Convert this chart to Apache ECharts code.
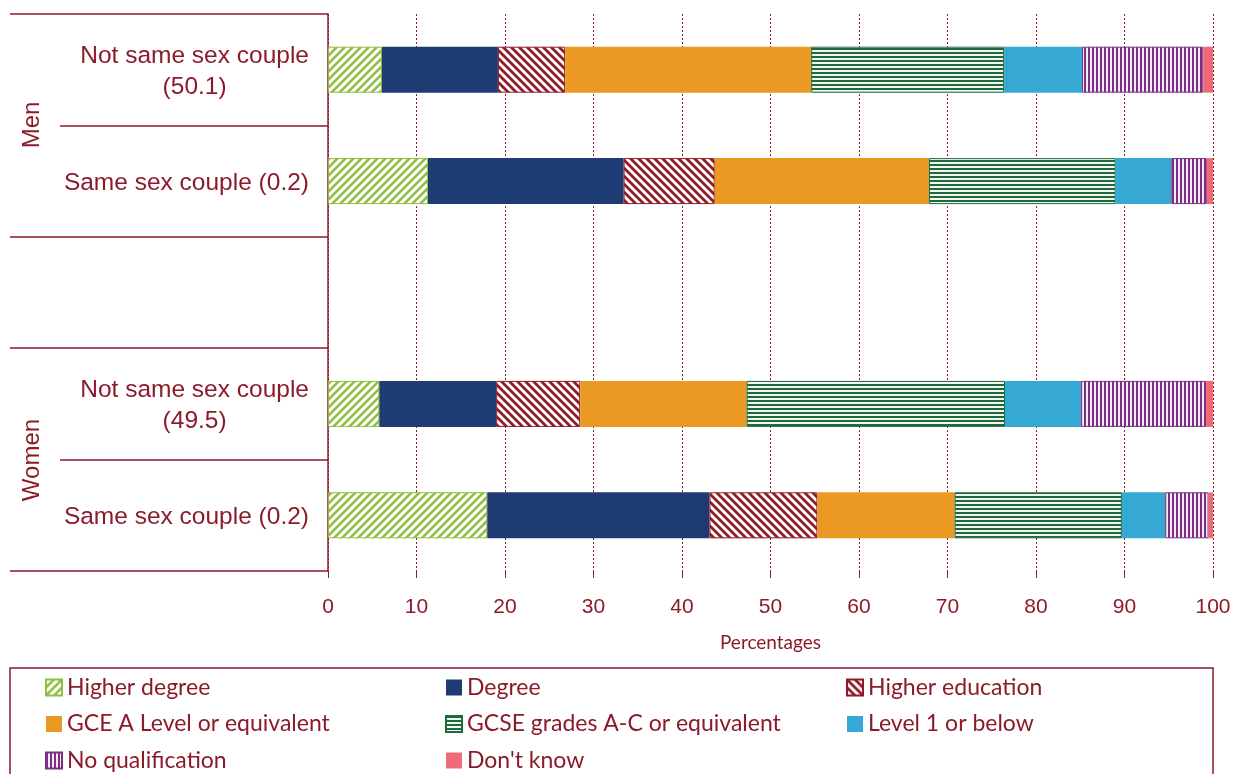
<!DOCTYPE html>
<html><head><meta charset="utf-8">
<script src="https://cdn.jsdelivr.net/npm/echarts@6/dist/echarts.min.js"></script>
<style>html,body{margin:0;padding:0;background:#fff}#c{width:1234px;height:774px}</style>
</head><body><div id="c"></div>
<script>
// ---- data ----
const categories = ['Not same sex couple\n(50.1)', 'Same sex couple (0.2)', '', 'Not same sex couple\n(49.5)', 'Same sex couple (0.2)'];
const groupLabels = ['Men', 'Women'];
const seriesNames = ['Higher degree', 'Degree', 'Higher education', 'GCE A Level or equivalent', 'GCSE grades A-C or equivalent', 'Level 1 or below', 'No qualification', "Don't know"];
const higherDegree    = [6.1, 11.3, null, 5.8, 18.0];
const degree          = [13.1, 22.1, null, 13.2, 25.1];
const higherEducation = [7.6, 10.3, null, 9.5, 12.2];
const gceALevel       = [27.8, 24.2, null, 18.8, 15.5];
const gcseGrades      = [21.8, 21.1, null, 29.2, 18.9];
const level1OrBelow   = [8.8, 6.3, null, 8.6, 4.9];
const noQualification = [13.7, 4.0, null, 14.1, 4.9];
const dontKnow        = [1.1, 0.7, null, 0.8, 0.5];
const xTickValues = [0, 10, 20, 30, 40, 50, 60, 70, 80, 90, 100];
const xAxisTitle = 'Percentages';

// ---- styles ----
const RED = '#8c1b2a';
function pattern(kind, fg, bg, p, lw) {
  const c = document.createElement('canvas');
  c.width = p; c.height = p;
  const g = c.getContext('2d');
  g.fillStyle = bg; g.fillRect(0, 0, p, p);
  g.strokeStyle = fg; g.fillStyle = fg; g.lineWidth = lw;
  if (kind === 'fwd') {
    g.beginPath();
    g.moveTo(0, p); g.lineTo(p, 0);
    g.moveTo(-p / 2, p / 2); g.lineTo(p / 2, -p / 2);
    g.moveTo(p / 2, 3 * p / 2); g.lineTo(3 * p / 2, p / 2);
    g.stroke();
  } else if (kind === 'back') {
    g.beginPath();
    g.moveTo(0, 0); g.lineTo(p, p);
    g.moveTo(p / 2, -p / 2); g.lineTo(3 * p / 2, p / 2);
    g.moveTo(-p / 2, p / 2); g.lineTo(p / 2, 3 * p / 2);
    g.stroke();
  } else if (kind === 'horiz') {
    g.fillRect(0, 0, p, lw);
  } else if (kind === 'vert') {
    g.fillRect(0, 0, lw, p);
  }
  return { image: c, repeat: 'repeat' };
}
const styles = [
  { color: pattern('fwd', '#8fbd3f', '#ffffff', 8, 2.6), borderColor: '#8fbd3f', borderWidth: 1 },
  { color: '#1f3b73' },
  { color: pattern('back', '#8e1b25', '#ffffff', 8, 2.8), borderColor: '#8e1b25', borderWidth: 1 },
  { color: '#ea9922' },
  { color: pattern('horiz', '#1e6a3c', '#f4f6f4', 4, 2), borderColor: '#1e6a3c', borderWidth: 1 },
  { color: '#36a8d4' },
  { color: pattern('vert', '#7b2e83', '#f3ecf4', 4, 2), borderColor: '#7b2e83', borderWidth: 1 },
  { color: '#f06a78' }
];
const seriesData = [higherDegree, degree, higherEducation, gceALevel, gcseGrades, level1OrBelow, noQualification, dontKnow];

const chart = echarts.init(document.getElementById('c'), null, { renderer: 'canvas' });

const series = seriesNames.map((name, i) => ({
  name, type: 'bar', stack: 'total', barWidth: 46,
  data: seriesData[i], itemStyle: styles[i], emphasis: { disabled: true },
  yAxisIndex: 0
}));

const legendFont = { color: RED, fontFamily: 'Lato', fontSize: 23, lineHeight: 22 };
function legendCol(names, left) {
  return {
    orient: 'vertical', left, top: 676, padding: 0, itemGap: 13.5,
    itemWidth: 16, itemHeight: 16, icon: 'rect', itemStyle: {},
    textStyle: legendFont, data: names, selectedMode: false
  };
}

chart.setOption({
  animation: false,
  textStyle: { fontFamily: 'Liberation Sans' },
  grid: { left: 328, right: 21, top: 14, bottom: 203 },
  xAxis: {
    type: 'value', min: xTickValues[0], max: xTickValues[xTickValues.length - 1], interval: 10,
    axisLine: { show: false },
    axisTick: { show: true, length: 7, lineStyle: { color: RED, width: 1 } },
    axisLabel: { color: RED, fontSize: 21, margin: 26, fontFamily: 'Liberation Sans' },
    splitLine: { show: true, lineStyle: { color: RED, width: 1, type: [2, 2] } },
    name: xAxisTitle, nameLocation: 'middle', nameGap: 62,
    nameTextStyle: { color: RED, fontFamily: 'Lato', fontSize: 19 }
  },
  yAxis: [
    {
      type: 'category', data: categories, inverse: true,
      axisLine: { show: true, lineStyle: { color: RED, width: 1.5 } },
      axisTick: { show: true, length: 318, interval: (i) => i === 0 || i === 2 || i === 3, lineStyle: { color: RED, width: 1.5 } },
      axisLabel: {
        margin: 19, interval: 0, color: RED, fontSize: 24.5, fontFamily: 'Liberation Sans',
        padding: [4, 0, 0, 0],
        formatter: (v) => {
          const parts = v.split('\n');
          if (parts.length === 2) return '{a|' + parts[0] + '}\n{b|' + parts[1] + '}';
          return '{a|' + v + '}';
        },
        rich: {
          a: { color: RED, fontSize: 24.5, lineHeight: 31, fontFamily: 'Liberation Sans' },
          b: { color: RED, fontSize: 24.5, lineHeight: 31, fontFamily: 'Liberation Sans', align: 'center' }
        }
      }
    },
    {
      type: 'category', data: categories, inverse: true, position: 'left',
      axisLine: { show: false },
      axisTick: { show: true, length: 268, interval: (i) => i === 1 || i === 4, lineStyle: { color: RED, width: 1.5 } },
      axisLabel: { show: false }
    }
  ],
  legend: [
    legendCol([seriesNames[0], seriesNames[3], seriesNames[6]], 45),
    legendCol([seriesNames[1], seriesNames[4], seriesNames[7]], 445),
    legendCol([seriesNames[2], seriesNames[5]], 846)
  ],
  graphic: [
    { type: 'rect', shape: { x: 10, y: 668, width: 1203, height: 140 }, style: { fill: 'none', stroke: RED, lineWidth: 1.5 }, silent: true },
    { type: 'text', x: 32, y: 125, rotation: Math.PI / 2, style: { text: groupLabels[0], fill: RED, font: '24px "Liberation Sans"', align: 'center', verticalAlign: 'middle' }, silent: true },
    { type: 'text', x: 32, y: 460, rotation: Math.PI / 2, style: { text: groupLabels[1], fill: RED, font: '24px "Liberation Sans"', align: 'center', verticalAlign: 'middle' }, silent: true }
  ],
  series
});
</script>
</body></html>
